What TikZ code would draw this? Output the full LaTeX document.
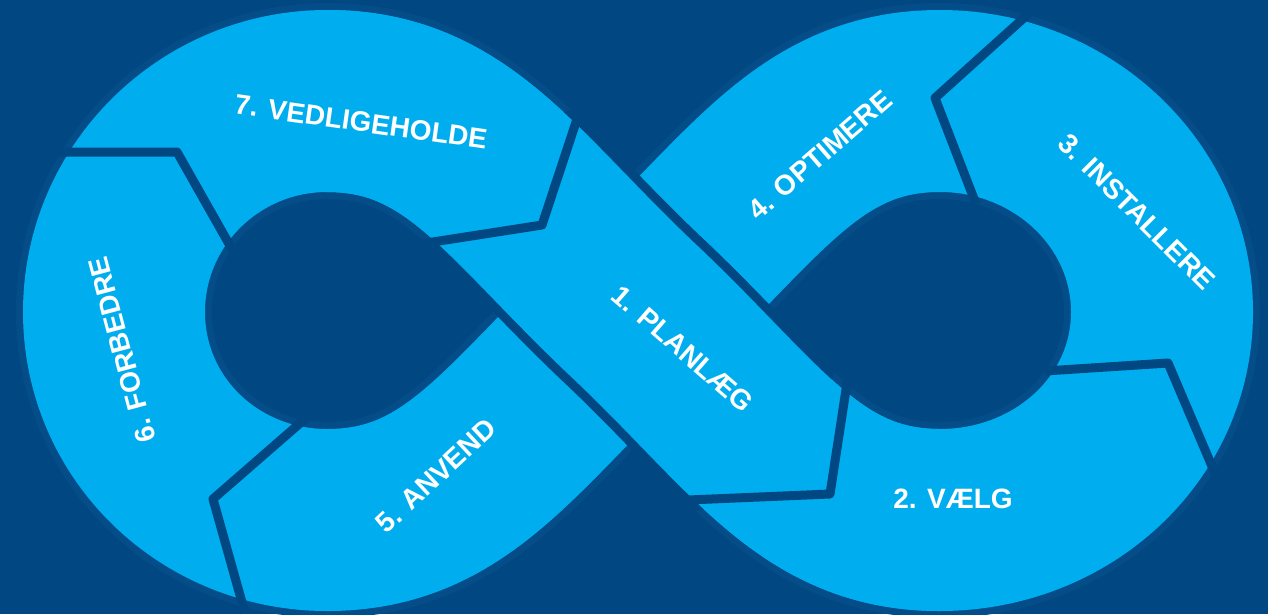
\documentclass[tikz,border=0pt]{standalone}
\usepackage{fontspec}
\setmainfont{Liberation Sans}
\definecolor{bgblue}{RGB}{1,71,130}
\definecolor{rimblue}{RGB}{4,77,137}
\definecolor{lightblue}{RGB}{0,174,239}
\begin{document}
\begin{tikzpicture}[x=1pt,y=-1pt,
  band/.style={line width=182pt, draw=lightblue},
  rimband/.style={line width=196pt, draw=rimblue},
  gapband/.style={line width=200pt, draw=bgblue},
  sepline/.style={line width=9pt, draw=bgblue, line join=round},
  lbl/.style={text=white, font=\fontsize{28}{30}\selectfont\bfseries, inner sep=0pt}]
\useasboundingbox (0,0) rectangle (1268,614);
\fill[bgblue] (0,0) rectangle (1268,614);
% key points of the centre line
\coordinate (C) at (633.5,310.5);
\coordinate (TL) at (327,101);
\coordinate (L) at (114,312);
\coordinate (BL) at (327,520);
\coordinate (TR) at (940,101);
\coordinate (R) at (1162,312);
\coordinate (BR) at (940,520);
% faint rim, then the whole band
\foreach \st in {rimband,band}{
\draw[\st] (C) .. controls (757,427) and (810,520) .. (BR)
 .. controls (1062,520) and (1162,429) .. (R)
 .. controls (1162,195) and (1062,101) .. (TR)
 .. controls (810,101) and (757,194) .. (C)
 .. controls (510,427) and (457,520) .. (BL)
 .. controls (210,520) and (114,429) .. (L)
 .. controls (114,195) and (210,101) .. (TL)
 .. controls (457,101) and (510,194) .. (C);
}
% over-crossing band with its gap
\begin{scope}
\clip (C) circle[radius=210pt];
\draw[gapband] (TL) .. controls (457,101) and (510,194) .. (C)
 .. controls (757,427) and (810,520) .. (BR);
\end{scope}
\draw[band] (TL) .. controls (457,101) and (510,194) .. (C)
 .. controls (757,427) and (810,520) .. (BR);
% separators
\coordinate (s71a) at (580,110); \coordinate (s71b) at (542,225); \coordinate (s71c) at (420,244);
\draw[sepline] (s71a) -- (s71b) -- (s71c);
\coordinate (s12a) at (849,370); \coordinate (s12b) at (830,494); \coordinate (s12c) at (688,500);
\draw[sepline] (s12a) -- (s12b) -- (s12c);
\coordinate (s23a) at (1045,371); \coordinate (s23b) at (1168,363); \coordinate (s23c) at (1217,478);
\draw[sepline] (s23a) -- (s23b) -- (s23c);
\coordinate (s34a) at (1036,7); \coordinate (s34b) at (935,98); \coordinate (s34c) at (976,204);
\draw[sepline] (s34a) -- (s34b) -- (s34c);
\coordinate (s56a) at (306,418); \coordinate (s56b) at (213,499); \coordinate (s56c) at (245,613);
\draw[sepline] (s56a) -- (s56b) -- (s56c);
\coordinate (s67a) at (58,152); \coordinate (s67b) at (177,152); \coordinate (s67c) at (233,251);
\draw[sepline] (s67a) -- (s67b) -- (s67c);
% labels
\node[lbl, rotate=-8] (t7) at (361,122) {7. VEDLIGEHOLDE};
\node[lbl, rotate=105] (t6) at (122,350) {6. FORBEDRE};
\node[lbl, rotate=43] (t5) at (436,476) {5. ANVEND};
\node[lbl, rotate=-41] (t1) at (683,349) {1. PLANLÆG};
\node[lbl] (t2) at (953,499) {2. VÆLG};
\node[lbl, rotate=-45] (t3) at (1137,212) {3. INSTALLERE};
\node[lbl, rotate=41] (t4) at (820,155) {4. OPTIMERE};
\end{tikzpicture}
\end{document}
